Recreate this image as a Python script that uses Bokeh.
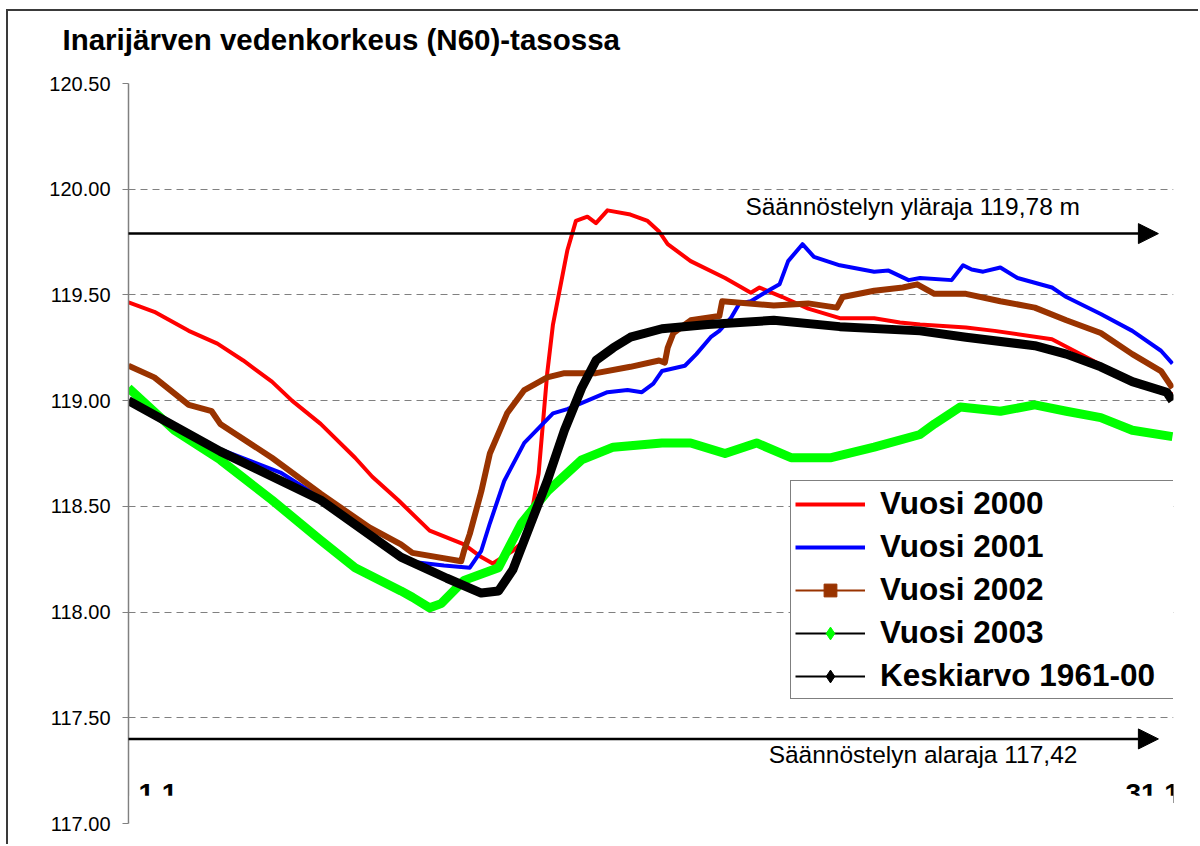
from bokeh.plotting import figure
from bokeh.models import (Range1d, FixedTicker, NumeralTickFormatter, Legend, LegendItem,
                          Arrow, NormalHead, Label, BoxAnnotation, ColumnDataSource, Title)
from bokeh.core.properties import value
from bokeh.embed import file_html
from bokeh.resources import INLINE

# ---------------- data ----------------
y_ticks = [117.0, 117.5, 118.0, 118.5, 119.0, 119.5, 120.0, 120.5]
x_tick_days = [1, 365]
x_tick_labels = ["1.1", "31.12"]
upper_limit = 119.79
lower_limit = 117.40

days_2000 = [1, 10, 22, 32, 41, 51, 58, 68, 80, 86, 95, 106, 118, 124, 128, 135, 140, 144, 147,
             149, 152, 154, 157, 161, 164, 168, 176, 182, 186, 189, 197, 209, 218, 221, 229, 238,
             249, 261, 270, 277, 293, 303, 323, 340, 351, 365]
lvl_2000 = [119.465, 119.42, 119.33, 119.27, 119.19, 119.09, 119.00, 118.89, 118.73, 118.64,
            118.53, 118.385, 118.32, 118.26, 118.23, 118.29, 118.35, 118.655, 119.13, 119.36,
            119.57, 119.71, 119.85, 119.87, 119.84, 119.90, 119.88, 119.85, 119.80, 119.74,
            119.66, 119.58, 119.51, 119.535, 119.49, 119.435, 119.39, 119.39, 119.37, 119.36,
            119.346, 119.33, 119.29, 119.17, 119.10, 119.03]

days_2001 = [1, 33, 54, 68, 85, 98, 111, 120, 124, 127, 132, 139, 144, 149, 154, 161, 168, 175,
             180, 184, 187, 195, 199, 204, 207, 211, 214, 218, 224, 228, 231, 236, 240, 249, 261,
             266, 273, 277, 288, 292, 295, 299, 305, 311, 323, 328, 340, 351, 361, 365]
lvl_2001 = [118.99, 118.77, 118.66, 118.54, 118.38, 118.24, 118.22, 118.21, 118.29, 118.42,
            118.62, 118.80, 118.87, 118.94, 118.96, 119.00, 119.04, 119.05, 119.04, 119.08,
            119.14, 119.165, 119.22, 119.30, 119.33, 119.39, 119.46, 119.47, 119.52, 119.55,
            119.66, 119.74, 119.68, 119.64, 119.61, 119.615, 119.57, 119.58, 119.57, 119.64,
            119.62, 119.61, 119.63, 119.58, 119.535, 119.49, 119.41, 119.33, 119.236, 119.175]

days_2002 = [1, 10, 22, 30, 33, 51, 68, 85, 96, 100, 117, 118, 120, 124, 127, 133, 139, 147, 153,
             164, 176, 186, 188, 189, 191, 197, 207, 208, 226, 238, 248, 250, 261, 271, 276, 282,
             293, 305, 317, 328, 340, 351, 361, 365]
lvl_2002 = [119.165, 119.11, 118.98, 118.95, 118.89, 118.73, 118.56, 118.40, 118.32, 118.28,
            118.24, 118.29, 118.37, 118.57, 118.75, 118.94, 119.05, 119.11, 119.13, 119.13,
            119.16, 119.19, 119.18, 119.25, 119.32, 119.38, 119.40, 119.47, 119.45, 119.46,
            119.44, 119.49, 119.52, 119.535, 119.55, 119.505, 119.505, 119.47, 119.44, 119.38,
            119.32, 119.22, 119.14, 119.06]

days_2003 = [1, 17, 33, 51, 68, 80, 96, 100, 106, 110, 118, 130, 138, 147, 159, 170, 187, 197,
             209, 220, 232, 246, 261, 277, 282, 291, 305, 317, 328, 340, 351, 365]
lvl_2003 = [119.06, 118.86, 118.72, 118.53, 118.34, 118.21, 118.10, 118.07, 118.02, 118.04,
            118.15, 118.21, 118.42, 118.57, 118.72, 118.78, 118.80, 118.80, 118.75, 118.80,
            118.73, 118.73, 118.78, 118.84, 118.89, 118.97, 118.95, 118.98, 118.95, 118.92,
            118.86, 118.83]

days_avg = [1, 33, 68, 96, 112, 124, 130, 135, 141, 147, 153, 159, 164, 170, 176, 187, 203, 226,
            249, 277, 293, 317, 328, 340, 351, 363, 365]
lvl_avg = [119.00, 118.76, 118.53, 118.26, 118.16, 118.09, 118.10, 118.20, 118.41, 118.62,
           118.86, 119.06, 119.19, 119.25, 119.30, 119.34, 119.36, 119.38, 119.35, 119.33,
           119.30, 119.26, 119.22, 119.16, 119.09, 119.04, 119.00]

series_names = ["Vuosi 2000", "Vuosi 2001", "Vuosi 2002", "Vuosi 2003", "Keskiarvo 1961-00"]
chart_title = "Inarijärven vedenkorkeus (N60)-tasossa"

# ---------------- layout constants ----------------
W, H = 1192, 835
PX_PER_DAY = 2.868
MB_LEFT, MB_RIGHT, MB_TOP, MB_BOTTOM = 120, 27, 72, 23
x_end = 1 + (W - MB_LEFT - MB_RIGHT) / PX_PER_DAY
arrow_start = 1 - 15 / PX_PER_DAY
arrow_end = 360.1

FONT = "Liberation Sans"

p = figure(width=W, height=H, output_backend="svg", toolbar_location=None,
           x_axis_type=None, x_range=Range1d(1, x_end), y_range=Range1d(117.0, 120.5),
           min_border_left=MB_LEFT, min_border_right=MB_RIGHT,
           min_border_top=MB_TOP, min_border_bottom=MB_BOTTOM)
p.styles = {"margin-left": "6px", "margin-top": "9px",
            "border-left": "2px solid #3a3a3a", "border-top": "2px solid #3a3a3a"}
p.outline_line_color = None
p.background_fill_color = "white"
p.border_fill_color = "white"

# title: a blank spacer title next to the frame, the real title above it
p.title = None
p.add_layout(Title(text=" ", text_font=FONT, text_font_size="20px", standoff=0), "above")
p.add_layout(Title(text=chart_title, text_font=FONT, text_font_size="29.5px",
                   text_font_style="bold", text_color="black", align="left",
                   offset=-66, standoff=8), "above")

# y axis
yax = p.yaxis[0]
yax.ticker = FixedTicker(ticks=y_ticks)
yax.formatter = NumeralTickFormatter(format="0.00")
yax.major_label_text_font = FONT
yax.major_label_text_font_size = "20px"
yax.major_label_text_color = "black"
yax.major_label_standoff = 12
yax.major_tick_in = 0
yax.major_tick_out = 6
yax.minor_tick_out = 0
yax.minor_tick_in = 0
yax.axis_line_color = "#808080"
yax.axis_line_width = 1.5
yax.major_tick_line_color = "#808080"

g = p.ygrid[0]
g.grid_line_color = "#808080"
g.grid_line_dash = "7 5"
g.grid_line_width = 1

# series lines
series = [
    (days_2000, lvl_2000, "#FF0000", 4),
    (days_2001, lvl_2001, "#0000FF", 4),
    (days_2002, lvl_2002, "#993300", 6),
    (days_2003, lvl_2003, "#00FF00", 9),
    (days_avg, lvl_avg, "#000000", 9),
]
for d, v, c, w in series:
    p.line(d, v, line_color=c, line_width=w, line_join="round")

# regulation limits
for lim in (upper_limit, lower_limit):
    p.add_layout(Arrow(x_start=arrow_start, y_start=lim, x_end=arrow_end, y_end=lim,
                       line_width=2.5, line_color="black",
                       end=NormalHead(size=20, fill_color="black", line_color="black")))

p.add_layout(Label(x=216.1, y=upper_limit, text="Säännöstelyn yläraja 119,78 m",
                   text_font=FONT, text_font_size="24.5px", text_baseline="middle",
                   text_color="black", y_offset=27))
p.add_layout(Label(x=224.2, y=lower_limit, text="Säännöstelyn alaraja 117,42",
                   text_font=FONT, text_font_size="24.5px", text_baseline="middle",
                   text_color="black", y_offset=-16))

# category-axis labels (partly hidden in the reference)
p.text(x=[x_tick_days[0]], y=[117.0], text=[x_tick_labels[0]], text_font=value(FONT),
       text_font_style="bold", text_font_size="28px", text_align="left", text_baseline="top",
       x_offset=10, y_offset=-40, text_color="black")
p.text(x=[x_tick_days[1]], y=[117.0], text=[x_tick_labels[1]], text_font=value(FONT),
       text_font_style="bold", text_font_size="28px", text_align="right", text_baseline="top",
       x_offset=23, y_offset=-40, text_color="black")
p.add_layout(BoxAnnotation(left=1.4, bottom=117.008, top=117.131, fill_color="white",
                           fill_alpha=1.0, line_color=None, line_alpha=0))

# legend (legend-only renderers with a single missing point)
nan = float("nan")
leg_specs = [
    ("#FF0000", 4, "dot", "#FF0000"),
    ("#0000FF", 4, "dot", "#0000FF"),
    ("#993300", 2, "square", "#993300"),
    ("#000000", 2, "diamond", "#00FF00"),
    ("#000000", 2, "diamond", "#000000"),
]
items = []
for name, (lc, lw, mk, mc) in zip(series_names, leg_specs):
    src = ColumnDataSource(dict(x=[nan], y=[nan]))
    r1 = p.line("x", "y", source=src, line_color=lc, line_width=lw)
    r2 = p.scatter("x", "y", source=src, marker=mk, fill_color=mc, line_color=mc)
    items.append(LegendItem(label=name, renderers=[r1, r2]))

legend = Legend(items=items, location=(662, 124), margin=0, padding=4, spacing=6,
                glyph_width=70, glyph_height=32, label_standoff=15, label_width=292,
                label_text_font=FONT, label_text_font_size="31.5px", label_text_font_style="bold",
                label_text_color="black",
                border_line_color="black", border_line_width=1.5, background_fill_alpha=1.0)
p.add_layout(legend)

open("out.html", "w").write(file_html(p, INLINE))
